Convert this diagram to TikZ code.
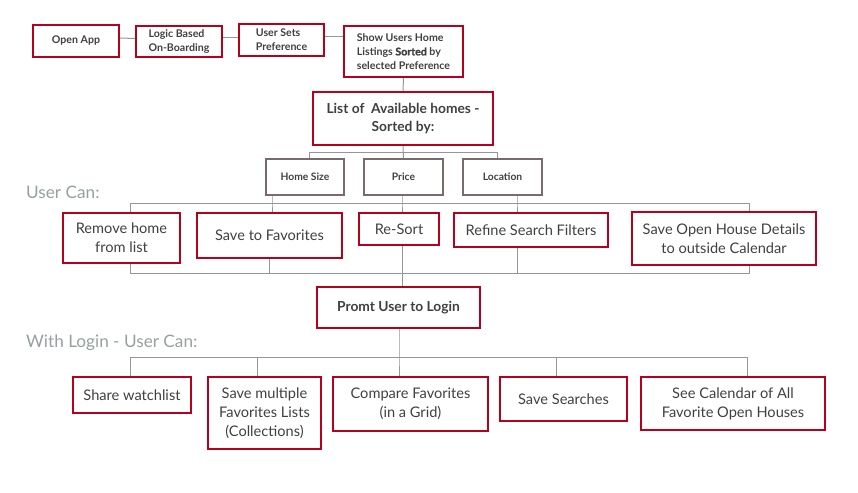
\documentclass[tikz,border=0pt]{standalone}
\usepackage{fontspec}
\setmainfont{Lato}
\definecolor{boxred}{RGB}{183,0,30}
\definecolor{subbox}{RGB}{122,106,106}
\definecolor{txt}{RGB}{64,64,64}
\definecolor{lbl}{RGB}{150,160,160}
\definecolor{conn}{RGB}{150,150,150}
\begin{document}
\begin{tikzpicture}[x=1pt,y=-1pt,
  redbox/.style={draw=boxred,line width=2pt,inner sep=0pt,text=txt,align=center},
  topbox/.style={redbox,font=\bfseries\fontsize{10.6}{14}\selectfont},
  listbox/.style={redbox,font=\bfseries\fontsize{13.8}{18.5}\selectfont},
  sortbox/.style={draw=subbox,line width=2pt,inner sep=0pt,text=txt,font=\bfseries\fontsize{10.3}{12}\selectfont},
  actbox/.style={redbox,font=\fontsize{14.6}{18.8}\selectfont},
  lbltext/.style={text=lbl,inner sep=0pt,anchor=west,font=\fontsize{17.2}{20}\selectfont},
  conn/.style={draw=conn,line width=1pt}]
\useasboundingbox (0,0) rectangle (858,492);
% top row
\node[topbox,minimum width=86pt,minimum height=32pt] (open) at (76,41) {Open App};
\node[topbox,minimum width=86pt,minimum height=31pt,align=left] (logic) at (179,41.5) {Logic Based\\On-Boarding};
\node[topbox,minimum width=85pt,minimum height=32pt,align=left] (usersets) at (281.5,40) {User Sets\\Preference};
\node[topbox,minimum width=119pt,minimum height=51pt,align=left] (show) at (403.5,51.5) {Show Users Home\\Listings {\addfontfeature{FakeBold=1.2}Sorted} by\\selected Preference};
\node[listbox,minimum width=180pt,minimum height=53pt] (list) at (403,118.5) {List of\ \ Available homes -\\Sorted by:};
\node[sortbox,minimum width=78pt,minimum height=36pt] (homesize) at (305,177) {Home Size};
\node[sortbox,minimum width=79pt,minimum height=36pt] (price) at (403.5,177) {Price};
\node[sortbox,minimum width=79pt,minimum height=36pt] (location) at (502.5,177) {Location};
% labels
\node[lbltext] (lblA) at (26,192) {User Can:};
\node[lbltext] (lblB) at (26,343) {With Login - User Can:};
% row 2
\node[actbox,minimum width=117pt,minimum height=50pt] (remove) at (121.5,238) {Remove home\\from list};
\node[actbox,minimum width=145pt,minimum height=45pt] (savefav) at (269.5,235.5) {Save to Favorites};
\node[actbox,minimum width=80pt,minimum height=32pt] (resort) at (399,229) {Re-Sort};
\node[actbox,minimum width=154pt,minimum height=34pt] (refine) at (531,230) {Refine Search Filters};
\node[actbox,minimum width=184pt,minimum height=53pt] (saveopen) at (724,238.5) {Save Open House Details\\to outside Calendar};
% login
\node[listbox,minimum width=163pt,minimum height=41pt] (promt) at (398.5,307.5) {Promt User to Login};
% row 3
\node[actbox,minimum width=118pt,minimum height=36pt] (share) at (132,395) {Share watchlist};
\node[actbox,minimum width=113pt,minimum height=72pt] (savemult) at (264.5,413) {Save multiple\\Favorites Lists\\(Collections)};
\node[actbox,minimum width=155pt,minimum height=54pt] (compare) at (410.5,404) {Compare Favorites\\(in a Grid)};
\node[actbox,minimum width=127pt,minimum height=44pt] (savesearch) at (563.5,399) {Save Searches};
\node[actbox,minimum width=184pt,minimum height=53pt] (seecal) at (733,403.5) {See Calendar of All\\Favorite Open Houses};
% bus coordinates
\coordinate (sA) at (309,152);
\coordinate (sB) at (497,152);
\coordinate (a1) at (130,203);
\coordinate (a2) at (272,203);
\coordinate (a3) at (402,203);
\coordinate (a4) at (517,203);
\coordinate (a5) at (749,203);
\coordinate (b1) at (130,273);
\coordinate (b2) at (269,273);
\coordinate (b4) at (517,273);
\coordinate (b5) at (749,273);
\coordinate (c1) at (130,357);
\coordinate (c2) at (257,357);
\coordinate (c3) at (399,357);
\coordinate (c4) at (556,357);
\coordinate (c5) at (747,357);
% connectors
\draw[conn] ([yshift=3pt]open.east) -- ([yshift=3pt]logic.west);
\draw[conn] ([yshift=4pt]logic.east) -- ([yshift=4pt]usersets.west |- logic.east);
\draw[conn] ([yshift=3pt]usersets.east) -- ([yshift=3pt]usersets.east -| show.west);
\draw[conn] (show.south) -- (list.north);
\draw[conn] (list.south) -- (price.north);
\draw[conn] (sA |- homesize.north) -- (sA) -- (sB) -- (sB |- location.north);
\draw[conn] (a2 |- homesize.south) -- (a2) -- (a2 |- savefav.north);
\draw[conn] (a3 |- price.south) -- (a3) -- (a3 |- resort.north);
\draw[conn] (a4 |- location.south) -- (a4) -- (a4 |- refine.north);
\draw[conn] (a1 |- remove.north) -- (a1) -- (a5) -- (a5 |- saveopen.north);
\draw[conn] (b1 |- remove.south) -- (b1) -- (b5) -- (b5 |- saveopen.south);
\draw[conn] (b2 |- savefav.south) -- (b2);
\draw[conn] (b4 |- refine.south) -- (b4);
\draw[conn] (a3 |- resort.south) -- (a3 |- promt.north);
\draw[conn] (c3 |- promt.south) -- (c3) -- (c3 |- compare.north);
\draw[conn] (c1 |- share.north) -- (c1) -- (c5) -- (c5 |- seecal.north);
\draw[conn] (c2) -- (c2 |- savemult.north);
\draw[conn] (c4) -- (c4 |- savesearch.north);
\end{tikzpicture}
\end{document}
